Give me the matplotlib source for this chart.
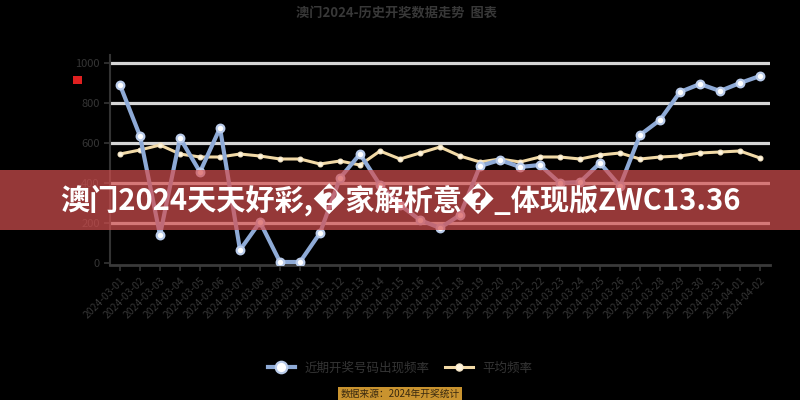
import matplotlib
matplotlib.use("Agg")
import matplotlib.pyplot as plt
from matplotlib.patches import Rectangle
import numpy as np

plt.rcParams['font.family'] = ['Noto Sans CJK SC', 'DejaVu Sans']

dates = ["2024-03-%02d" % d for d in range(1, 32)] + ["2024-04-01", "2024-04-02"]

series_a = [890, 635, 140, 625, 455, 675, 65, 205, 5, 5, 150, 425, 545, 390, 290, 215,
            175, 240, 485, 515, 480, 490, 400, 405, 500, 385, 640, 715, 855, 895, 860, 900, 935]
series_b = [545, 565, 590, 545, 530, 530, 545, 535, 520, 520, 495, 510, 490, 560, 520, 550,
            580, 535, 505, 520, 505, 530, 530, 520, 540, 550, 520, 530, 535, 550, 555, 560, 525]

y_ticks = [0, 200, 400, 600, 800, 1000]
name_a = "近期开奖号码出现频率"
name_b = "平均频率"
title = "澳门2024-历史开奖数据走势  图表"
banner = "澳门2024天天好彩,\ufffd家解析意\ufffd_体现版ZWC13.36"
source = "数据来源：2024年开奖统计"

fig = plt.figure(figsize=(8, 4), dpi=100, facecolor='black')
ax = fig.add_axes([0.1375, 0.3375, 0.825, 0.525], facecolor='black')

x = np.arange(len(dates))
ax.set_xlim(-0.5, len(dates) - 0.5)
ax.set_ylim(-10, 1040)

for v in y_ticks[1:]:
    ax.axhline(v, color='#d6d6d6', lw=2.3, zorder=1)

ax.plot(x, series_b, color='#f1d9a6', lw=2.2, marker='o', ms=3.5,
        mfc='#fff6e0', mec='#f6e6c4', mew=0.8, zorder=3, label=name_b)
ax.plot(x, series_a, color='#8eaad6', lw=3, marker='o', ms=5.5,
        mfc='white', mec='#b9cbea', mew=1.6, zorder=4, label=name_a)

for s in ['top', 'right']:
    ax.spines[s].set_visible(False)
ax.spines['left'].set_color('#333333')
ax.spines['left'].set_linewidth(1.5)
ax.spines['bottom'].set_color('#3a3a3a')
ax.spines['bottom'].set_linewidth(2)

ax.set_yticks(y_ticks)
ax.set_yticklabels([str(v) for v in y_ticks], color='#353535', fontsize=8)
ax.set_xticks(x)
ax.set_xticklabels(dates, rotation=45, ha='right', rotation_mode='anchor',
                   color='#353535', fontsize=7.5)
ax.tick_params(axis='both', colors='#353535', length=4, width=1.2)

handles, labels = ax.get_legend_handles_labels()
leg = fig.legend(handles[::-1], labels[::-1], loc='center', bbox_to_anchor=(0.5, 0.08),
                 ncol=2, frameon=False, fontsize=9, handlelength=2.2, columnspacing=1.2,
                 markerscale=1.5)
for t in leg.get_texts():
    t.set_color('#353535')

fig.text(0.495, 0.968, title, ha='center', va='center', fontsize=9.5,
         fontweight='bold', color='#383838')

fig.patches.append(Rectangle((0.091, 0.79), 0.011, 0.02, transform=fig.transFigure,
                             facecolor='#e02020', edgecolor='none'))

fig.text(0.5, 0.015, source, ha='center', va='center', fontsize=7, color='#3a2a10',
         bbox=dict(boxstyle='square,pad=0.25', facecolor='#c9932f', edgecolor='none'))

fig.patches.append(Rectangle((0, 0.425), 1, 0.15, transform=fig.transFigure,
                             facecolor='#d55050', alpha=0.7, edgecolor='none', zorder=10))
fig.text(0.5, 0.5, banner, ha='center', va='center', fontsize=21, fontweight='bold',
         color='white', zorder=11)

fig.savefig('out.png', dpi=100, facecolor='black')
